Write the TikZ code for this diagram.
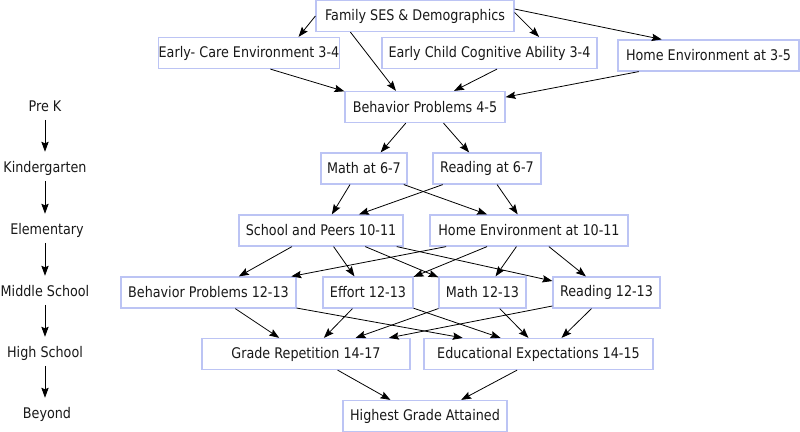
\documentclass[tikz,border=0pt]{standalone}
\usepackage{fontspec}
\setmainfont{DejaVu Sans}[FakeStretch=0.87]
\usetikzlibrary{arrows.meta}
\definecolor{boxline}{RGB}{188,196,244}

\begin{document}
\begin{tikzpicture}[x=0.75pt, y=-0.75pt,
  every node/.style = {font=\fontsize{11}{12}\selectfont, text=black!90},
  box/.style = {shape=rectangle, draw=boxline, fill=white,
    line width=0.9pt, minimum height=23.25pt, inner sep=0pt},
  stage/.style = {inner sep=0pt, text height=8pt, text depth=2pt},
  arr/.style = {-{Stealth[length=7.5pt,width=5.5pt,inset=1.2pt]}, line width=0.6pt}]
  \useasboundingbox (0,0) rectangle (800,432);

  \node[box, minimum width=148.5pt] (fam) at (415,16) {Family SES \& Demographics};
  \node[box, minimum width=133.5pt] (care) at (249,53) {Early- Care Environment 3-4};
  \node[box, minimum width=161.25pt] (cog) at (489.5,53) {Early Child Cognitive Ability 3-4};
  \node[box, minimum width=135.75pt] (home35) at (708.5,55.5) {Home Environment at 3-5};
  \node[box, minimum width=120pt] (beh45) at (425,107) {Behavior Problems 4-5};
  \node[box, minimum width=64.5pt] (math67) at (364,168.5) {Math at 6-7};
  \node[box, minimum width=81pt] (read67) at (487,168.5) {Reading at 6-7};
  \node[box, minimum width=123pt] (school) at (321,230.5) {School and Peers 10-11};
  \node[box, minimum width=148.5pt] (home1011) at (529,230.5) {Home Environment at 10-11};
  \node[box, minimum width=131.25pt] (beh1213) at (208.5,292.5) {Behavior Problems 12-13};
  \node[box, minimum width=67.5pt] (effort) at (368,292.5) {Effort 12-13};
  \node[box, minimum width=65.25pt] (math1213) at (482.5,292.5) {Math 12-13};
  \node[box, minimum width=80.25pt] (read1213) at (606.5,292.5) {Reading 12-13};
  \node[box, minimum width=156pt] (grade) at (306,354) {Grade Repetition 14-17};
  \node[box, minimum width=171.75pt] (edexp) at (538.5,354) {Educational Expectations 14-15};
  \node[box, minimum width=123pt] (highest) at (425,416) {Highest Grade Attained};

  \foreach \a/\b in {fam.180/care.18, fam.194/beh45.151, fam.2/cog.18, fam.4/home35.161,
      care.323/beh45.169, cog.295/beh45.29, home35.193/beh45.7,
      beh45.220/math67.44, beh45.319/read67.138,
      math67.229/school.56, math67.338/home1011.159,
      read67.200/school.23, read67.302/home1011.125,
      school.209/beh1213.28, school.308/effort.130,
      school.340/math1213.161, school.348/read1213.168,
      home1011.191/beh1213.11, home1011.201/effort.19,
      home1011.232/math1213.51, home1011.321/read1213.142,
      beh1213.329/grade.149, beh1213.350/edexp.168,
      effort.226/grade.42, effort.341/edexp.157,
      math1213.200/grade.18, math1213.317/edexp.122,
      read1213.194/grade.11, read1213.227/edexp.35,
      grade.333/highest.155, edexp.217/highest.24}
    \draw[arr] (\a) -- (\b);

  \node[stage] (prek) at (45,107) {Pre K};
  \node[stage] (kinder) at (45,168) {Kindergarten};
  \node[stage] (elem) at (47,230) {Elementary};
  \node[stage] (middle) at (45,292) {Middle School};
  \node[stage] (high) at (45,353) {High School};
  \node[stage] (beyond) at (47,414) {Beyond};

  \foreach \a/\b in {prek/kinder, kinder/elem, elem/middle, middle/high, high/beyond}
    \draw[arr, shorten <=4.5pt, shorten >=7pt] (\a.south -| 45,0) -- (\b.north -| 45,0);
\end{tikzpicture}
\end{document}
